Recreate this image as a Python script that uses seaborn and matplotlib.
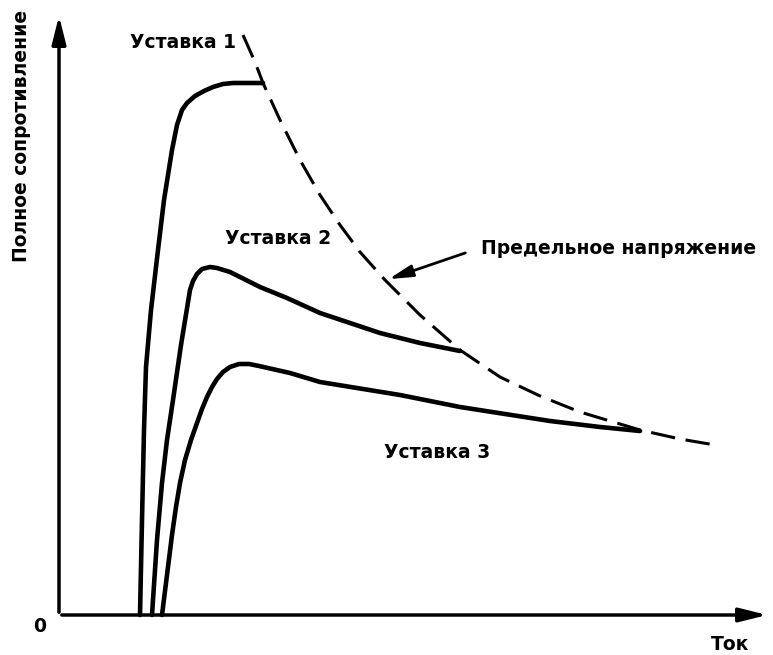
import matplotlib
matplotlib.use("Agg")
import matplotlib.pyplot as plt
import seaborn as sns
import pandas as pd

sns.set_theme(style="white")
plt.rcParams['font.family'] = ['DejaVu Sans']
plt.rcParams['text.color'] = 'black'

# Curves (schematic values)
c1_x = [81, 83, 85, 87, 92, 99, 105, 113, 118, 123, 128, 136, 145, 154, 164, 174, 189, 204]
c1_y = [0, 95, 185, 248, 305, 365, 415, 465, 490, 505, 512, 519, 524, 528, 531, 532, 532, 532]
c2_x = [93, 98, 103, 108, 114, 122, 131, 134, 138, 143, 151, 158, 171, 201, 228, 261, 321, 361, 401]
c2_y = [0, 75, 132, 175, 215, 270, 325, 334, 341, 346, 348, 347, 343, 328, 317, 302, 282, 272, 264]
c3_x = [103, 108, 113, 117, 121, 126, 132, 138, 143, 148, 153, 158, 164, 171, 180, 190, 200, 231, 261, 341, 401, 491, 541, 581]
c3_y = [0, 40, 80, 108, 132, 155, 175, 192, 206, 218, 228, 236, 243, 248, 251, 251, 249, 242, 233, 220, 208, 194, 188, 184]
lim_x = [184, 196, 204, 221, 241, 261, 281, 301, 326, 361, 401, 441, 481, 521, 581, 621, 656]
lim_y = [580, 553, 532, 495, 455, 420, 390, 363, 335, 300, 265, 238, 219, 203, 185, 176, 170]

labels = ["Уставка 1", "Уставка 2", "Уставка 3", "Предельное напряжение"]
x_label = "Ток"
y_label = "Полное сопротивление"

fig = plt.figure(figsize=(7.73, 6.55), dpi=100)
ax = fig.add_axes([0, 0, 1, 1])
ax.set_xlim(-59, 714)
ax.set_ylim(-40, 615)
ax.axis("off")

for xs, ys in [(c1_x, c1_y), (c2_x, c2_y), (c3_x, c3_y)]:
    df = pd.DataFrame({"x": xs, "y": ys})
    sns.lineplot(data=df, x="x", y="y", sort=False, color="black", lw=3.3, ax=ax,
                 solid_capstyle="round", solid_joinstyle="round")

dfl = pd.DataFrame({"x": lim_x, "y": lim_y})
sns.lineplot(data=dfl, x="x", y="y", sort=False, color="black", lw=2.2, ax=ax,
             dashes=False, linestyle=(0, (8, 3.5)))

# axes with arrows
ax.annotate("", xy=(0, 602), xytext=(0, 0),
            arrowprops=dict(arrowstyle="-|>,head_length=1.4,head_width=0.35", color="black", lw=2.5))
ax.annotate("", xy=(711, 0), xytext=(0, 0),
            arrowprops=dict(arrowstyle="-|>,head_length=1.4,head_width=0.35", color="black", lw=2.5))

# pointer arrow
ax.annotate("", xy=(327, 335), xytext=(409, 363),
            arrowprops=dict(arrowstyle="-|>,head_length=1.2,head_width=0.3", color="black", lw=2))

fs = 13.5
kw = dict(fontsize=fs, fontweight="bold", ha="center", va="center", color="black")
ax.text(124, 572, labels[0], **kw)
ax.text(219, 377, labels[1], **kw)
ax.text(378, 163, labels[2], **kw)
ax.text(560, 367, labels[3], **kw)
ax.text(671, -30, x_label, **kw)
ax.text(-19, -11, "0", **kw)
ax.text(-37, 479, y_label, rotation=90, **kw)

fig.savefig("out.png", dpi=100)
